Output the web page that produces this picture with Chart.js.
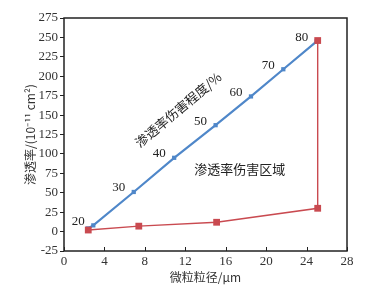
<!DOCTYPE html>
<html>
<head>
<meta charset="utf-8">
<script src="https://cdn.jsdelivr.net/npm/chart.js@4.4.0/dist/chart.umd.min.js"></script>
<style>
  html, body { margin: 0; padding: 0; background: #fff; }
  #wrap { width: 378px; height: 288px; }
</style>
</head>
<body>
<div id="wrap"><canvas id="chart"></canvas></div>
<script>
// Data
const blueX = [2.35, 2.9, 6.9, 10.9, 15.0, 18.5, 21.7, 25.0];
const blueY = [4, 8, 51, 95, 137, 174, 209, 245];
const damageLabels = ['', '20', '30', '40', '50', '60', '70', '80'];

const redX = [2.4, 7.4, 15.1, 25.1, 25.1];
const redY = [2, 7, 12, 30, 246];

const xTicks = [0, 4, 8, 12, 16, 20, 24, 28];
const yTicks = [-25, 0, 25, 50, 75, 100, 125, 150, 175, 200, 225, 250, 275];

const SERIF = '"Liberation Serif", "DejaVu Serif", serif';
const CJK = '"Noto Sans CJK SC", sans-serif';
const BLUE = '#4f87c9';
const RED = '#c94a50';

function toPoints(xs, ys) {
    return xs.map((x, i) => ({ x: x, y: ys[i] }));
}

// box, inward x ticks and text annotations
const decorPlugin = {
    id: 'decor',
    afterDraw(chart) {
        const ctx = chart.ctx;
        const area = chart.chartArea;
        const xs = chart.scales.x;
        const ys = chart.scales.y;

        ctx.save();
        ctx.strokeStyle = '#222';
        ctx.lineWidth = 1.5;
        ctx.strokeRect(area.left, area.top, area.right - area.left, area.bottom - area.top);

        // x ticks point inward
        ctx.lineWidth = 1;
        xTicks.forEach(v => {
            const px = Math.round(xs.getPixelForValue(v)) + 0.5;
            ctx.beginPath();
            ctx.moveTo(px, area.bottom);
            ctx.lineTo(px, area.bottom - 4);
            ctx.stroke();
        });

        // damage percentage labels next to blue points
        ctx.fillStyle = '#222';
        ctx.font = '13px ' + SERIF;
        ctx.textAlign = 'center';
        ctx.textBaseline = 'middle';
        blueX.forEach((x, i) => {
            if (!damageLabels[i]) return;
            const px = xs.getPixelForValue(x);
            const py = ys.getPixelForValue(blueY[i]);
            ctx.fillText(damageLabels[i], px - 15, py - 4);
        });

        // rotated curve name
        ctx.font = '13px ' + CJK;
        ctx.save();
        ctx.translate(xs.getPixelForValue(11.3), ys.getPixelForValue(157));
        ctx.rotate(-40 * Math.PI / 180);
        ctx.fillText('渗透率伤害程度/%', 0, 0);
        ctx.restore();

        // region name
        ctx.fillText('渗透率伤害区域', xs.getPixelForValue(17.4), ys.getPixelForValue(80));
        ctx.restore();
    }
};

new Chart(document.getElementById('chart'), {
    type: 'scatter',
    data: {
        datasets: [
            {
                label: 'damage',
                data: toPoints(blueX, blueY),
                showLine: true,
                borderColor: BLUE,
                backgroundColor: BLUE,
                borderWidth: 2.2,
                pointStyle: 'rect',
                pointRadius: 3,
                pointBorderWidth: 0,
                order: 2
            },
            {
                label: 'permeability',
                data: toPoints(redX, redY),
                showLine: true,
                borderColor: RED,
                backgroundColor: RED,
                borderWidth: 1.4,
                pointStyle: 'rect',
                pointRadius: 4.8,
                pointBorderWidth: 0,
                order: 1
            }
        ]
    },
    options: {
        responsive: true,
        maintainAspectRatio: false,
        animation: false,
        layout: { padding: { top: 18, right: 31, left: 23, bottom: 3 } },
        plugins: {
            legend: { display: false },
            tooltip: { enabled: false }
        },
        scales: {
            x: {
                type: 'linear',
                min: 0,
                max: 28,
                afterBuildTicks: s => { s.ticks = xTicks.map(v => ({ value: v })); },
                afterFit: s => { s.height = 34; },
                grid: { display: false, drawTicks: false },
                border: { display: false },
                ticks: { color: '#333', font: { family: SERIF, size: 13 }, padding: 3 },
                title: {
                    display: true,
                    text: '微粒粒径/μm',
                    color: '#333',
                    font: { family: CJK, size: 12 },
                    padding: { top: 0, bottom: 0 }
                }
            },
            y: {
                type: 'linear',
                min: -25,
                max: 275,
                afterBuildTicks: s => { s.ticks = yTicks.map(v => ({ value: v })); },
                afterFit: s => { s.width = 41; },
                grid: { drawOnChartArea: false, drawTicks: true, tickLength: 4, color: '#222' },
                border: { display: false },
                ticks: { color: '#333', font: { family: SERIF, size: 13 }, padding: 2 },
                title: {
                    display: true,
                    text: '渗透率/(10⁻¹¹ cm²)',
                    color: '#333',
                    font: { family: CJK, size: 12 },
                    padding: { top: 0, bottom: 0 }
                }
            }
        }
    },
    plugins: [decorPlugin]
});
</script>
</body>
</html>
